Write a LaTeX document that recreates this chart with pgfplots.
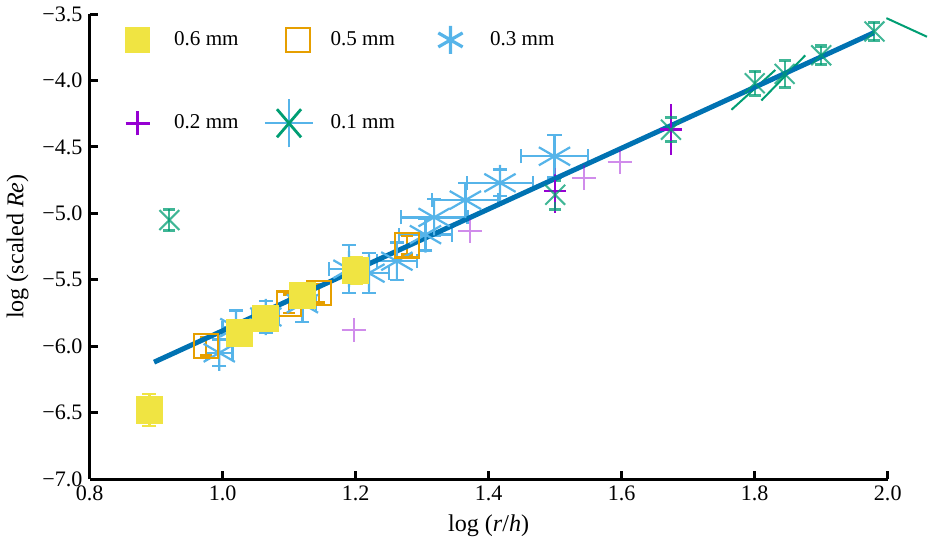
\documentclass[border=0pt]{standalone}
\usepackage{fontspec}
\setmainfont{Liberation Serif}
\usepackage{pgfplots}
\pgfplotsset{compat=1.18}
\definecolor{cyel}{RGB}{240,228,66}
\definecolor{corange}{RGB}{230,159,0}
\definecolor{csky}{RGB}{86,180,233}
\definecolor{cgreen}{RGB}{0,158,115}
\definecolor{cpurple}{RGB}{150,0,210}
\definecolor{cblue}{RGB}{0,114,178}
\begin{document}
\begin{tikzpicture}
\begin{axis}[
    scale only axis,
    width=397.5pt, height=231.5pt,
    xmin=0.8, xmax=2.0, ymin=-7, ymax=-3.5,
    axis x line*=bottom, axis y line*=left,
    axis line style={-, line width=1.5pt},
    tick align=inside, major tick length=4pt,
    tick style={line width=1.5pt, black},
    xtick={0.8,1.0,1.2,1.4,1.6,1.8,2.0},
    xticklabels={0.8,1.0,1.2,1.4,1.6,1.8,2.0},
    ytick={-7,-6.5,-6,-5.5,-5,-4.5,-4,-3.5},
    yticklabels={−7.0,−6.5,−6.0,−5.5,−5.0,−4.5,−4.0,−3.5},
    ticklabel style={font=\fontsize{11}{13}\selectfont},
    label style={font=\fontsize{12}{14}\selectfont},
    xlabel={log (\textit{r}/\textit{h})},
    ylabel={log (scaled \textit{Re})},
    clip=false,
    legend columns=3,
    legend style={at={(0.0265,0.981)}, anchor=north west, draw=none, fill=none,
        font=\fontsize{10.5}{12}\selectfont, row sep=29pt},
]
% legend images
\addlegendimage{legend image code/.code={
    \fill[overlay, cyel] (-6pt,-6pt) rectangle (6pt,6pt);
    \path (-10pt,0pt) (16pt,0pt);}}
\addlegendentry{\makebox[49.5pt][l]{0.6 mm}}
\addlegendimage{legend image code/.code={
    \draw[overlay, corange, line width=1.2pt] (-6pt,-6pt) rectangle (6pt,6pt);
    \path (-10pt,0pt) (14pt,0pt);}}
\addlegendentry{\makebox[47.5pt][l]{0.5 mm}}
\addlegendimage{legend image code/.code={
    \draw[overlay, csky, line width=1.6pt] (0pt,-7pt) -- (0pt,7pt) (210:7pt) -- (30:7pt) (150:7pt) -- (330:7pt);
    \path (-10pt,0pt) (17.5pt,0pt);}}
\addlegendentry{0.3 mm}
\addlegendimage{legend image code/.code={
    \draw[overlay, cpurple, line width=1.5pt] (-6pt,0pt) -- (6pt,0pt) (0pt,-6pt) -- (0pt,6pt);
    \path (-10pt,0pt) (16pt,0pt);}}
\addlegendentry{\makebox[49.5pt][l]{0.2 mm}}
\addlegendimage{legend image code/.code={
    \draw[overlay, csky, line width=1.2pt] (-4.5pt,-12pt) -- (-4.5pt,12pt) (-16.5pt,0pt) -- (7.5pt,0pt);
    \draw[overlay, cgreen, line width=1.4pt] (-10.5pt,-7pt) -- (1.5pt,7pt) (-10.5pt,7pt) -- (1.5pt,-7pt);
    \path (-10pt,0pt) (14pt,0pt);}}
\addlegendentry{\makebox[47.5pt][l]{0.1 mm}}

% 0.3 mm
\addplot[forget plot, only marks, color=csky, mark=asterisk, mark size=9pt,
    mark options={line width=1.1pt},
    error bars/.cd, x dir=both, x explicit, y dir=both, y explicit,
    error bar style={line width=1.2pt, csky},
    error mark options={rotate=90, line width=1.2pt, mark size=3.5pt, csky}]
coordinates {
    (0.995,-6.05) +- (0.02,0.10)
    (1.02,-5.86)  +- (0.02,0.13)
    (1.065,-5.78) +- (0.02,0.12)
    (1.12,-5.68)  +- (0.02,0.14)
    (1.19,-5.42)  +- (0.03,0.18)
    (1.22,-5.45)  +- (0.03,0.15)
    (1.262,-5.36) +- (0.03,0.14)
    (1.305,-5.16) +- (0.04,0.12)
    (1.318,-5.03) +- (0.05,0.14)
    (1.365,-4.90) +- (0.05,0.13)
    (1.417,-4.77) +- (0.05,0.10)
    (1.499,-4.57) +- (0.05,0.16)
};

% 0.2 mm (faint)
\addplot[forget plot, only marks, color=cpurple, opacity=0.45, mark=+, mark size=6pt,
    mark options={line width=1pt}]
coordinates {
    (1.197,-5.88) (1.372,-5.13) (1.544,-4.73) (1.597,-4.61)
};
% 0.2 mm (with error bars)
\addplot[forget plot, only marks, color=cpurple, mark=+, mark size=5.5pt,
    mark options={line width=1.3pt},
    error bars/.cd, y dir=both, y explicit,
    error bar style={line width=1.3pt, cpurple}, error mark=none]
coordinates {
    (1.50,-4.83)  +- (0,0.17)
    (1.674,-4.37) +- (0,0.19)
};

% 0.1 mm
\addplot[forget plot, only marks, color=cgreen, opacity=0.75, mark=x, mark size=7pt,
    mark options={line width=1pt},
    error bars/.cd, y dir=both, y explicit,
    error bar style={line width=1pt, cgreen},
    error mark options={rotate=90, line width=1.6pt, mark size=3pt, cgreen}]
coordinates {
    (0.92,-5.05)  +- (0,0.08)
    (1.50,-4.86)  +- (0,0.11)
    (1.674,-4.37) +- (0,0.09)
    (1.80,-4.02)  +- (0,0.09)
    (1.845,-3.95) +- (0,0.10)
    (1.90,-3.81)  +- (0,0.07)
    (1.98,-3.63)  +- (0,0.07)
};
\addplot[forget plot, cgreen, line width=1pt] coordinates {(1.765,-4.22) (1.831,-3.92)};
\addplot[forget plot, cgreen, line width=1pt] coordinates {(1.81,-4.15) (1.876,-3.81)};
\addplot[forget plot, cgreen, line width=1pt] coordinates {(1.998,-3.53) (2.059,-3.67)};

% 0.5 mm
\addplot[forget plot, only marks, color=corange, mark=square, mark size=6pt,
    mark options={line width=1.2pt},
    error bars/.cd, y dir=both, y explicit,
    error bar style={line width=1.2pt, corange},
    error mark options={rotate=90, line width=1.2pt, mark size=3pt, corange}]
coordinates {
    (0.975,-6.00) +- (0,0.07)
    (1.10,-5.68)  +- (0,0.07)
    (1.145,-5.60) +- (0,0.07)
    (1.277,-5.24) +- (0,0.07)
};

% 0.6 mm
\addplot[forget plot, only marks, color=cyel, mark=square*, mark size=6.5pt,
    error bars/.cd, y dir=both, y explicit,
    error bar style={line width=1.2pt, cyel},
    error mark options={rotate=90, line width=1.2pt, mark size=3.5pt, cyel}]
coordinates {
    (0.89,-6.48)  +- (0,0.12)
    (1.025,-5.90) +- (0,0.07)
    (1.065,-5.79) +- (0,0.08)
    (1.12,-5.62)  +- (0,0.07)
    (1.20,-5.43)  +- (0,0.10)
};

% fit
\addplot[forget plot, color=cblue, line width=2.5pt] coordinates {(0.897,-6.12) (1.979,-3.64)};
\end{axis}
\end{tikzpicture}
\end{document}
